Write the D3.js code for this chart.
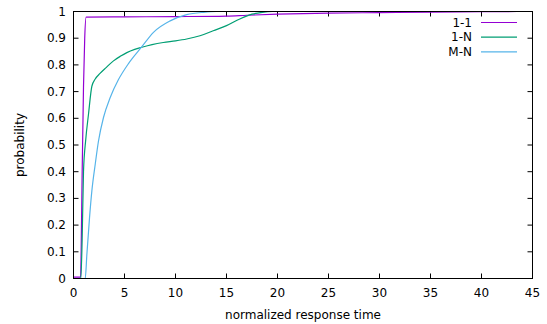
<!DOCTYPE html>
<html>
<head>
<meta charset="utf-8">
<script src="https://cdn.jsdelivr.net/npm/d3@7"></script>
<style>
  body { margin: 0; background: white; }
  svg { font-family: "DejaVu Sans", sans-serif; }
</style>
</head>
<body>
<svg id="chart" width="547" height="324"></svg>
<script>
// x values and cumulative probability for each series
const oneOneX = [0, 0.7, 0.75, 0.85, 0.98, 1.1, 1.24, 5, 10, 15, 17, 20, 25, 30, 35, 40, 43.5];
const oneOneY = [0.005, 0.005, 0.1, 0.4, 0.716, 0.9, 0.979, 0.98, 0.981, 0.983, 0.986, 0.99, 0.994, 0.996, 0.998, 0.999, 1];

const oneNX = [0, 0.72, 0.85, 0.98, 1.2, 1.47, 1.8, 2.13, 2.6, 3.2, 3.92, 4.58, 5.23, 6.0, 6.7, 7.7, 8.8, 10, 11.1, 12.4, 13.7, 15.0, 16.3, 17.5, 18.5, 19.5, 30];
const oneNY = [0, 0, 0.15, 0.40, 0.52, 0.615, 0.72, 0.747, 0.768, 0.79, 0.815, 0.832, 0.846, 0.858, 0.866, 0.876, 0.884, 0.89, 0.897, 0.909, 0.928, 0.947, 0.972, 0.99, 0.997, 1, 1];

const mnX = [0, 1.15, 1.31, 1.57, 1.80, 2.13, 2.45, 2.94, 3.6, 4.41, 5.39, 6.7, 7.84, 9.48, 11.1, 12.75, 14, 20];
const mnY = [0, 0, 0.09, 0.227, 0.328, 0.428, 0.515, 0.603, 0.678, 0.745, 0.805, 0.868, 0.922, 0.965, 0.988, 0.997, 1, 1];

const seriesNames = ["1-1", "1-N", "M-N"];
const seriesColors = ["#9400d3", "#009e73", "#56b4e9"];

const xTicks = d3.range(0, 46, 5);
const yTicks = [0, 0.1, 0.2, 0.3, 0.4, 0.5, 0.6, 0.7, 0.8, 0.9, 1];

const series = [
  d3.zip(oneOneX, oneOneY),
  d3.zip(oneNX, oneNY),
  d3.zip(mnX, mnY)
];

const svg = d3.select("#chart");
const plotLeft = 73.5, plotRight = 532.5, plotTop = 11.5, plotBottom = 278.5;

const x = d3.scaleLinear().domain([0, 45]).range([plotLeft, plotRight]);
const y = d3.scaleLinear().domain([0, 1]).range([plotBottom, plotTop]);

const line = d3.line()
  .x(d => x(d[0]))
  .y(d => y(d[1]))
  .curve(d3.curveMonotoneX);

// tick marks on all four sides, pointing inward
const tickLen = 5;
svg.append("g")
  .selectAll("line")
  .data(xTicks)
  .enter()
  .append("line")
  .attr("x1", d => x(d)).attr("x2", d => x(d))
  .attr("y1", plotBottom).attr("y2", plotBottom - tickLen)
  .attr("stroke", "black");
svg.append("g")
  .selectAll("line")
  .data(xTicks)
  .enter()
  .append("line")
  .attr("x1", d => x(d)).attr("x2", d => x(d))
  .attr("y1", plotTop).attr("y2", plotTop + tickLen)
  .attr("stroke", "black");
svg.append("g")
  .selectAll("line")
  .data(yTicks)
  .enter()
  .append("line")
  .attr("x1", plotLeft).attr("x2", plotLeft + tickLen)
  .attr("y1", d => y(d)).attr("y2", d => y(d))
  .attr("stroke", "black");
svg.append("g")
  .selectAll("line")
  .data(yTicks)
  .enter()
  .append("line")
  .attr("x1", plotRight).attr("x2", plotRight - tickLen)
  .attr("y1", d => y(d)).attr("y2", d => y(d))
  .attr("stroke", "black");

// tick labels
svg.append("g")
  .selectAll("text")
  .data(xTicks)
  .enter()
  .append("text")
  .attr("x", d => x(d))
  .attr("y", 297)
  .attr("text-anchor", "middle")
  .style("font-size", "12px")
  .text(d => d);

svg.append("g")
  .selectAll("text")
  .data(yTicks)
  .enter()
  .append("text")
  .attr("x", 66)
  .attr("y", d => y(d) + 4)
  .attr("text-anchor", "end")
  .style("font-size", "12px")
  .text(d => d);

// the curves
svg.append("g")
  .selectAll("path")
  .data(series)
  .enter()
  .append("path")
  .attr("d", line)
  .attr("fill", "none")
  .attr("stroke", (d, i) => seriesColors[i])
  .attr("stroke-width", 1.2);

// border
svg.append("rect")
  .attr("x", plotLeft).attr("y", plotTop)
  .attr("width", plotRight - plotLeft).attr("height", plotBottom - plotTop)
  .attr("fill", "none")
  .attr("stroke", "black")
  .attr("stroke-width", 1);

// axis titles
svg.append("text")
  .attr("x", (plotLeft + plotRight) / 2)
  .attr("y", 319)
  .attr("text-anchor", "middle")
  .style("font-size", "12px")
  .text("normalized response time");

svg.append("text")
  .attr("transform", "translate(24," + ((plotTop + plotBottom) / 2) + ") rotate(-90)")
  .attr("text-anchor", "middle")
  .style("font-size", "12px")
  .text("probability");

// legend
const legend = svg.append("g")
  .selectAll("g")
  .data(seriesNames)
  .enter()
  .append("g")
  .attr("transform", (d, i) => "translate(0," + (22.5 + i * 14.7) + ")");

legend.append("text")
  .attr("x", 472)
  .attr("y", 4)
  .attr("text-anchor", "end")
  .style("font-size", "12px")
  .text(d => d);

legend.append("line")
  .attr("x1", 481).attr("x2", 517)
  .attr("stroke", (d, i) => seriesColors[i])
  .attr("stroke-width", 1.2);
</script>
</body>
</html>
